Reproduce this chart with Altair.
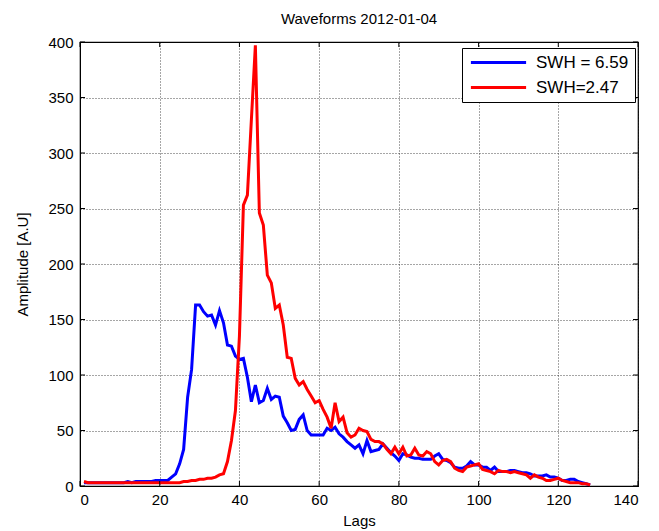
import altair as alt
import pandas as pd

lags = list(range(1, 129))

blue = [3, 3, 3, 3, 3, 3, 3, 3, 3, 3,
        3, 4, 3, 4, 4, 4, 4, 4, 5, 5,
        5, 5, 8, 11, 20, 33, 80, 105, 163, 163,
        157, 153, 154, 145, 158, 147, 127, 126, 117, 114,
        115, 98, 76, 91, 75, 77, 88, 78, 81, 80,
        63, 57, 50, 51, 60, 64, 50, 46, 46, 46,
        46, 52, 50, 53, 47, 44, 40, 37, 34, 37,
        29, 41, 31, 32, 33, 38, 34, 30, 27, 23,
        29, 28, 26, 25, 25, 24, 24, 24, 27, 29,
        24, 23, 21, 17, 16, 16, 18, 22, 19, 19,
        17, 17, 14, 17, 13, 13, 13, 14, 14, 13,
        12, 12, 11, 9, 9, 9, 10, 8, 8, 7,
        5, 5, 6, 6, 4, 3, 2, 1]

red = [4, 3, 3, 3, 3, 3, 3, 3, 3, 3,
       3, 3, 3, 3, 3, 3, 3, 3, 3, 3,
       3, 3, 3, 3, 3, 4, 4, 5, 5, 6,
       6, 7, 7, 8, 10, 11, 22, 41, 68, 135,
       253, 262, 330, 397, 246, 235, 190, 183, 160, 163,
       145, 116, 115, 97, 91, 94, 87, 81, 75, 77,
       69, 62, 52, 75, 58, 62, 48, 44, 46, 52,
       50, 49, 42, 40, 40, 38, 33, 29, 35, 29,
       35, 27, 28, 34, 28, 27, 31, 29, 22, 19,
       23, 24, 22, 16, 14, 13, 17, 18, 19, 20,
       15, 14, 13, 11, 14, 13, 13, 12, 13, 12,
       11, 10, 7, 10, 8, 7, 5, 5, 6, 7,
       5, 4, 3, 3, 3, 2, 2, 1]

series_names = ["SWH = 6.59", "SWH=2.47"]
series_colors = ["#0000ff", "#ff0000"]
x_ticks = [0, 20, 40, 60, 80, 100, 120, 140]
y_ticks = [0, 50, 100, 150, 200, 250, 300, 350, 400]

df = pd.DataFrame({
    "Lags": lags * 2,
    "Amplitude": blue + red,
    "series": [series_names[0]] * len(lags) + [series_names[1]] * len(lags),
})

FONT = "Liberation Sans"
W, H = 558, 444

xs = alt.Scale(domain=[0, 140], nice=False)
ys = alt.Scale(domain=[0, 400], nice=False)

lines = alt.Chart(df).mark_line(strokeWidth=3).encode(
    x=alt.X("Lags:Q", scale=xs, axis=alt.Axis(
        values=x_ticks, title="Lags", grid=True, gridColor="black",
        gridDash=[1, 2], gridOpacity=0.7, tickSize=0, labelPadding=6,
        labelFontSize=15, titleFontSize=15, titlePadding=6,
        domainColor="black", labelColor="black", titleColor="black",
        titleFontWeight="normal")),
    y=alt.Y("Amplitude:Q", scale=ys, axis=alt.Axis(
        values=y_ticks, title="Amplitude [A.U]", grid=True, gridColor="black",
        gridDash=[1, 2], gridOpacity=0.7, tickSize=0, labelPadding=7,
        labelFontSize=15, titleFontSize=15, titlePadding=17,
        domainColor="black", labelColor="black", titleColor="black",
        titleFontWeight="normal")),
    color=alt.Color("series:N", scale=alt.Scale(domain=series_names, range=series_colors),
                    sort=series_names,
                    legend=alt.Legend(title=None, orient="none", legendX=382, legendY=6,
                                      symbolType="M-4.6,0L4.6,0", symbolSize=144,
                                      symbolStrokeWidth=3, symbolOffset=22,
                                      labelFontSize=17, labelOffset=29,
                                      labelFont=FONT, labelColor="black",
                                      strokeColor="black", fillColor="white",
                                      padding=6, rowPadding=7)),
)

xt = pd.DataFrame({"t": x_ticks})
yt = pd.DataFrame({"t": y_ticks})
tick_len = 5
xb = alt.Chart(xt).mark_rule(color="black").encode(
    x=alt.X("t:Q", scale=xs), y=alt.value(H), y2=alt.value(H - tick_len))
xtop = alt.Chart(xt).mark_rule(color="black").encode(
    x=alt.X("t:Q", scale=xs), y=alt.value(0), y2=alt.value(tick_len))
yl = alt.Chart(yt).mark_rule(color="black").encode(
    y=alt.Y("t:Q", scale=ys), x=alt.value(0), x2=alt.value(tick_len))
yr = alt.Chart(yt).mark_rule(color="black").encode(
    y=alt.Y("t:Q", scale=ys), x=alt.value(W), x2=alt.value(W - tick_len))

chart = alt.layer(lines, xb, xtop, yl, yr).properties(
    width=W, height=H,
    title=alt.Title("Waveforms 2012-01-04", fontSize=15, font=FONT,
                    fontWeight="normal", color="black", offset=8),
    autosize=alt.AutoSizeParams(type="none"),
    padding={"left": 80, "top": 42, "right": 21, "bottom": 45},
).configure(font=FONT).configure_view(stroke="black", strokeWidth=1.2
).configure_axis(labelFont=FONT, titleFont=FONT)

chart.save("out.html", embed_options={"renderer": "svg", "actions": False})
